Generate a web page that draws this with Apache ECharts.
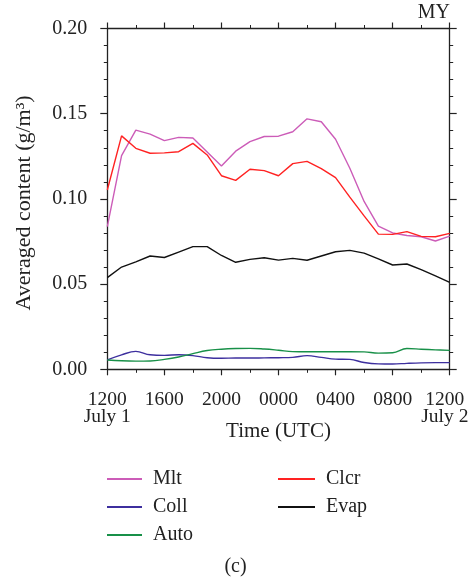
<!DOCTYPE html>
<html>
<head>
<meta charset="utf-8">
<script src="https://cdn.jsdelivr.net/npm/echarts@6/dist/echarts.min.js"></script>
<style>
html,body{margin:0;padding:0;background:#fff;}
#c{width:471px;height:582px;}
</style>
</head>
<body>
<div id="c"></div>
<script>
// Hours since 1200 UTC July 1
var hours = [0,1,2,3,4,5,6,7,8,9,10,11,12,13,14,15,16,17,18,19,20,21,22,23,24];
var xTickLabels = ['1200\nJuly 1','1600','2000','0000','0400','0800','1200\u00a0\u00a0\nJuly 2\u00a0\u00a0'];
var yTickLabels = ['0.00','0.05','0.10','0.15','0.20'];
var seriesNames = ['Mlt','Clcr','Coll','Evap','Auto'];

var mlt  = [0.0837,0.1254,0.1404,0.1380,0.1342,0.1361,0.1357,0.1275,0.1193,0.1280,0.1336,0.1366,0.1368,0.1394,0.1470,0.1453,0.1350,0.1180,0.0985,0.0840,0.0800,0.0785,0.0778,0.0753,0.0782];
var clcr = [0.1052,0.1370,0.1297,0.1268,0.1270,0.1277,0.1326,0.1258,0.1136,0.1109,0.1174,0.1166,0.1136,0.1207,0.1220,0.1178,0.1125,0.1010,0.0900,0.0793,0.0792,0.0808,0.0780,0.0778,0.0798];
var coll = [0.0055,0.0085,0.0105,0.0085,0.0082,0.0085,0.0080,0.0068,0.0065,0.0066,0.0066,0.0067,0.0068,0.0070,0.0080,0.0070,0.0060,0.0058,0.0040,0.0032,0.0031,0.0035,0.0038,0.0039,0.0039];
var evap = [0.0538,0.0600,0.0630,0.0665,0.0656,0.0688,0.0720,0.0720,0.0668,0.0628,0.0645,0.0655,0.0641,0.0651,0.0640,0.0665,0.0690,0.0698,0.0682,0.0648,0.0612,0.0618,0.0585,0.0548,0.0510];
var auto = [0.0055,0.0050,0.0048,0.0049,0.0058,0.0072,0.0092,0.0110,0.0118,0.0122,0.0123,0.0119,0.0112,0.0104,0.0103,0.0103,0.0103,0.0103,0.0102,0.0095,0.0097,0.0122,0.0118,0.0114,0.0111];

var colors = {Mlt:'#cc5cb8', Clcr:'#ff2222', Coll:'#3d2f9e', Evap:'#111111', Auto:'#189048'};
var values = {Mlt:mlt, Clcr:clcr, Coll:coll, Evap:evap, Auto:auto};
var smoothFlag = {Mlt:false, Clcr:false, Coll:0.4, Evap:false, Auto:0.4};

function pairs(v){ return hours.map(function(h,i){ return [h, v[i]]; }); }

var FONT = '"Liberation Serif", "DejaVu Serif", serif';
var axisCol = '#222';

var chart = echarts.init(document.getElementById('c'), null, {renderer:'canvas'});

var series = seriesNames.map(function(n){
  return {
    name:n, type:'line', data:pairs(values[n]), xAxisIndex:0, yAxisIndex:0,
    showSymbol:false, symbol:'none', smooth:smoothFlag[n],
    lineStyle:{color:colors[n], width:1.4}, itemStyle:{color:colors[n]},
    animation:false, z:3
  };
});

function axisBase(){
  return {
    axisLine:{show:true, onZero:false, lineStyle:{color:axisCol, width:1.3}},
    axisTick:{show:true, inside:false, length:6, lineStyle:{color:axisCol, width:1.2}},
    splitLine:{show:false}
  };
}

var option = {
  backgroundColor:'#fff',
  animation:false,
  textStyle:{fontFamily:FONT},
  grid:{left:107.3, right:21.3, top:28.5, bottom:212.7, containLabel:false, outerBoundsMode:'none'},
  title:[{text:'MY', right:16, top:-2, textStyle:{fontFamily:FONT, fontSize:20, fontWeight:'normal', color:'#222'}}],
  legend:[
    {data:['Mlt','Coll','Auto'], orient:'vertical', left:102, top:464, itemWidth:35, itemHeight:2, itemGap:8,
     icon:'rect', textStyle:{fontFamily:FONT, fontSize:20, color:'#222', lineHeight:20, padding:[0,0,0,6]}, selectedMode:false},
    {data:['Clcr','Evap'], orient:'vertical', left:273, top:464, itemWidth:37, itemHeight:2, itemGap:8,
     icon:'rect', textStyle:{fontFamily:FONT, fontSize:20, color:'#222', lineHeight:20, padding:[0,0,0,6]}, selectedMode:false}
  ],
  xAxis:[
    Object.assign(axisBase(), {
      type:'value', position:'bottom', min:0, max:24, interval:4,
      minorTick:{show:true, splitNumber:2, length:3.5, lineStyle:{color:axisCol, width:1}},
      name:'Time (UTC)', nameLocation:'middle', nameGap:52, nameMoveOverlap:false,
      nameTextStyle:{fontFamily:FONT, fontSize:21, color:'#222'},
      axisLabel:{margin:22, fontFamily:FONT, fontSize:19.5, color:'#222', lineHeight:17,
        formatter:function(v){ var i=Math.round(v/4); return xTickLabels[i]||''; }}
    }),
    Object.assign(axisBase(), {
      type:'value', position:'top', min:0, max:24, interval:4,
      minorTick:{show:true, splitNumber:2, length:3.5, lineStyle:{color:axisCol, width:1}},
      axisLabel:{show:false}
    })
  ],
  yAxis:[
    Object.assign(axisBase(), {
      type:'value', position:'left', min:0, max:0.2, interval:0.05,
      minorTick:{show:true, splitNumber:5, length:3.5, lineStyle:{color:axisCol, width:1}},
      axisTick:{show:true, inside:false, length:7, lineStyle:{color:axisCol, width:1.2}},
      name:'Averaged content (g/m³)', nameLocation:'middle', nameGap:72,
      nameTextStyle:{fontFamily:FONT, fontSize:22, color:'#222', padding:[0,8,0,0]},
      axisLabel:{margin:20, fontFamily:FONT, fontSize:20, color:'#222',
        formatter:function(v){ var i=Math.round(v/0.05); return yTickLabels[i]||''; }}
    }),
    Object.assign(axisBase(), {
      type:'value', position:'right', min:0, max:0.2, interval:0.05,
      minorTick:{show:true, splitNumber:5, length:3.5, lineStyle:{color:axisCol, width:1}},
      axisTick:{show:true, inside:false, length:7, lineStyle:{color:axisCol, width:1.2}},
      axisLabel:{show:false}
    })
  ],
  graphic:[
    {type:'text', left:'center', top:557, style:{text:'(c)', font:'20px ' + FONT, fill:'#222'}}
  ],
  series:series
};
chart.setOption(option);
</script>
</body>
</html>
